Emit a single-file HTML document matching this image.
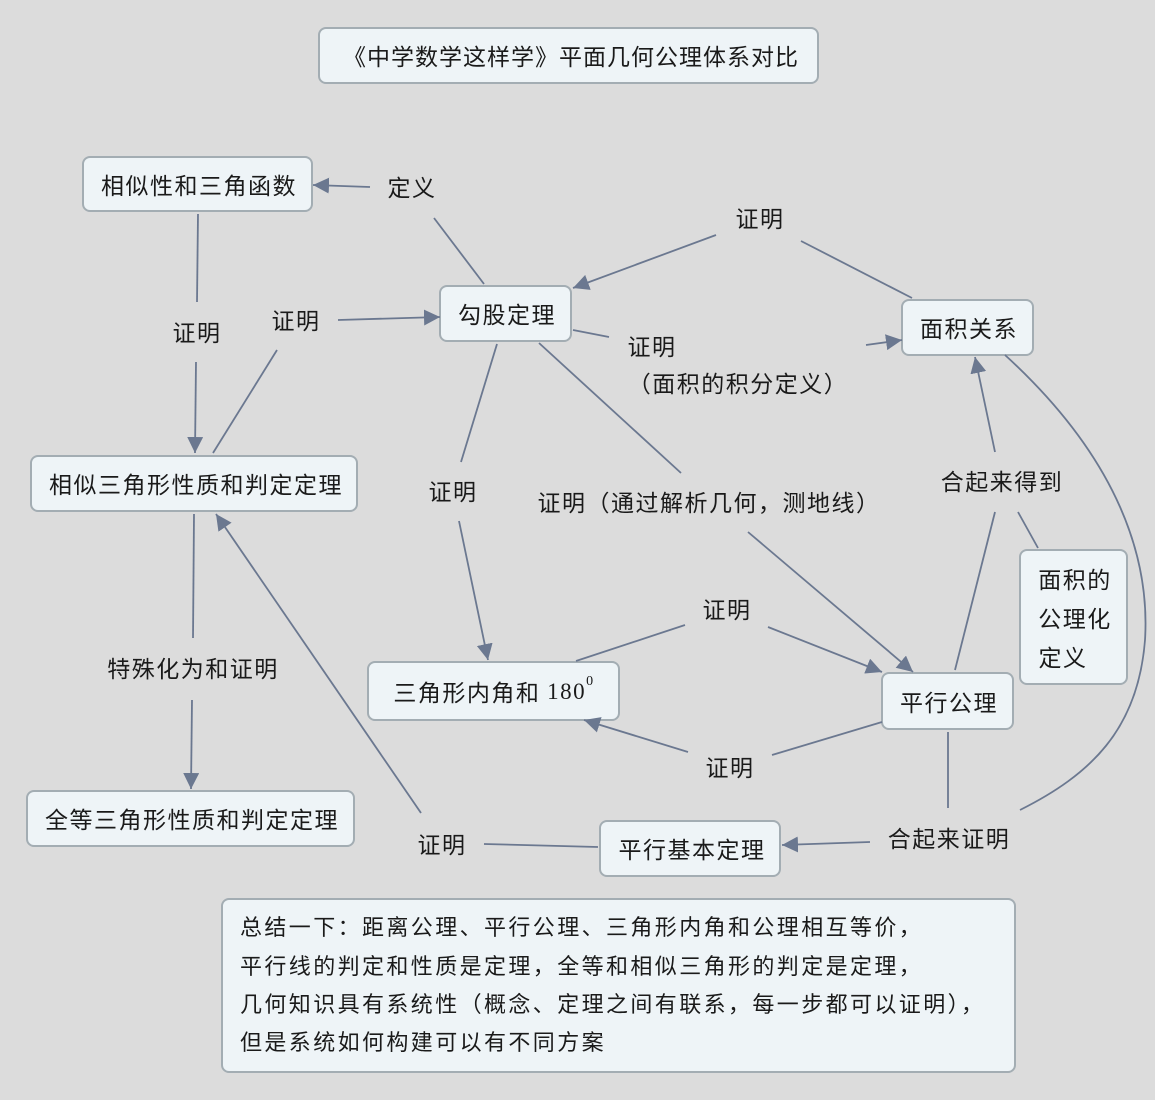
<!DOCTYPE html>
<html><head><meta charset="utf-8"><style>
body{margin:0;background:#dcdcdc;}
svg{display:block;font-family:"Noto Sans CJK SC","Liberation Sans",sans-serif;}
.b{fill:#eef4f7;stroke:#a3adb3;stroke-width:2;}
.l{stroke:#6b7890;stroke-width:1.8;fill:none;}
text{font-size:23px;letter-spacing:1.5px;fill:#1a1a1a;text-anchor:middle;dominant-baseline:central;}
.t{letter-spacing:1px;}
.s{text-anchor:start;font-size:22px;letter-spacing:2.4px;}
</style></head><body>
<svg width="1155" height="1100" viewBox="0 0 1155 1100">
<defs><marker id="a" viewBox="0 0 10 10" refX="10" refY="5" markerWidth="16" markerHeight="16" markerUnits="userSpaceOnUse" orient="auto"><path d="M0,0L10,5L0,10z" fill="#6b7890"/></marker></defs>
<rect class="b" x="319" y="28" width="499" height="55" rx="7"/>
<text class="t" x="571" y="55">《中学数学这样学》平面几何公理体系对比</text>
<rect class="b" x="83" y="157" width="229" height="54" rx="7"/><text x="199" y="184">相似性和三角函数</text>
<rect class="b" x="440" y="286" width="131" height="55" rx="7"/><text x="507" y="313">勾股定理</text>
<rect class="b" x="902" y="300" width="131" height="55" rx="7"/><text x="969" y="327">面积关系</text>
<rect class="b" x="31" y="456" width="326" height="55" rx="7"/><text x="196" y="483">相似三角形性质和判定定理</text>
<rect class="b" x="1020" y="550" width="107" height="134" rx="7"/>
<text x="1075" y="578">面积的</text><text x="1075" y="617">公理化</text><text x="1063" y="656">定义</text>
<rect class="b" x="368" y="662" width="251" height="58" rx="7"/><text x="494" y="691">三角形内角和 <tspan font-family="Liberation Serif">180</tspan><tspan font-size="14" dy="-10" font-family="Liberation Serif">0</tspan></text>
<rect class="b" x="882" y="673" width="131" height="56" rx="7"/><text x="949" y="701">平行公理</text>
<rect class="b" x="27" y="791" width="327" height="55" rx="7"/><text x="192" y="818">全等三角形性质和判定定理</text>
<rect class="b" x="600" y="821" width="180" height="55" rx="7"/><text x="692" y="848">平行基本定理</text>
<rect class="b" x="222" y="899" width="793" height="173" rx="7"/>
<text class="s" x="240" y="926">总结一下：距离公理、平行公理、三角形内角和公理相互等价，</text>
<text class="s" x="240" y="965">平行线的判定和性质是定理，全等和相似三角形的判定是定理，</text>
<text class="s" x="240" y="1003">几何知识具有系统性（概念、定理之间有联系，每一步都可以证明），</text>
<text class="s" x="240" y="1041">但是系统如何构建可以有不同方案</text>
<text x="412" y="186">定义</text><text x="760" y="217">证明</text><text x="197" y="331">证明</text><text x="296" y="319">证明</text>
<text x="652" y="345">证明</text><text x="738" y="382">（面积的积分定义）</text><text x="453" y="490">证明</text>
<text x="709" y="501">证明（通过解析几何，测地线）</text><text x="1002" y="480">合起来得到</text><text x="727" y="608">证明</text>
<text x="193" y="667">特殊化为和证明</text><text x="730" y="766">证明</text><text x="442" y="843">证明</text><text x="949" y="837">合起来证明</text>
<path class="l" d="M370,187L313,185" marker-end="url(#a)"/>
<path class="l" d="M434,218L484,284"/>
<path class="l" d="M716,235L573,288" marker-end="url(#a)"/>
<path class="l" d="M801,241L912,298"/>
<path class="l" d="M198,214L197,302"/>
<path class="l" d="M196,362L195,453" marker-end="url(#a)"/>
<path class="l" d="M338,320L440,317" marker-end="url(#a)"/>
<path class="l" d="M277,350L213,453"/>
<path class="l" d="M573,330L609,337"/>
<path class="l" d="M866,345L902,340" marker-end="url(#a)"/>
<path class="l" d="M497,344L461,462"/>
<path class="l" d="M459,521L488,660" marker-end="url(#a)"/>
<path class="l" d="M539,343L681,473"/>
<path class="l" d="M748,532L913,672" marker-end="url(#a)"/>
<path class="l" d="M995,452L975,357" marker-end="url(#a)"/>
<path class="l" d="M955,670L995,512"/>
<path class="l" d="M1018,512L1038,548"/>
<path class="l" d="M1005,355C1120,460 1150,560 1145,640C1138,730 1090,775 1020,810"/>
<path class="l" d="M576,661L685,625"/>
<path class="l" d="M768,627L882,672" marker-end="url(#a)"/>
<path class="l" d="M882,722L772,755"/>
<path class="l" d="M688,752L584,720" marker-end="url(#a)"/>
<path class="l" d="M948,732L948,808"/>
<path class="l" d="M870,842L782,845" marker-end="url(#a)"/>
<path class="l" d="M598,847L484,844"/>
<path class="l" d="M421,813L216,514" marker-end="url(#a)"/>
<path class="l" d="M194,514L193,638"/>
<path class="l" d="M192,700L191,789" marker-end="url(#a)"/>
</svg>
</body></html>
